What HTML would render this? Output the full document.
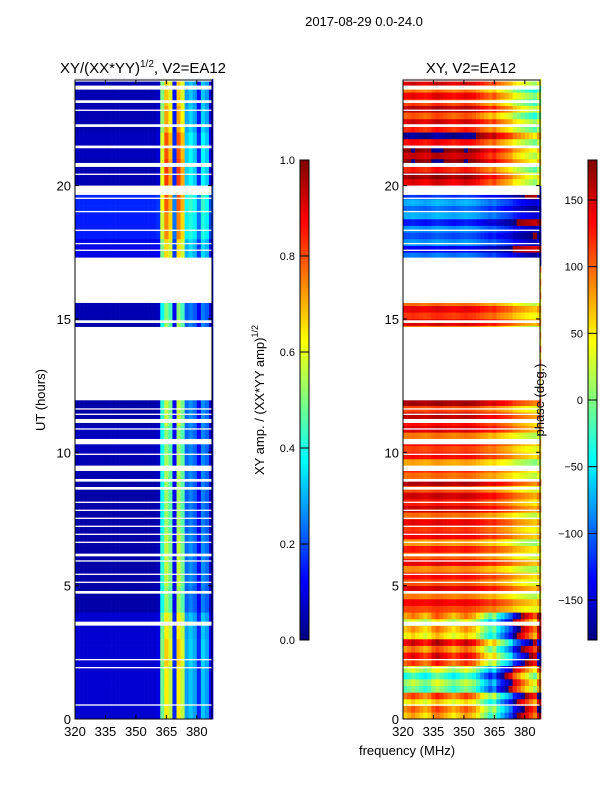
<!DOCTYPE html>
<html><head><meta charset="utf-8"><style>
body{margin:0;background:#fff;}
svg{display:block;font-family:"Liberation Sans",sans-serif;}
</style></head><body>
<svg id="fig" width="600" height="800" viewBox="0 0 600 800">
<rect width="600" height="800" fill="#fff"/>
<g id="layer"></g>
<text x="364" y="26" font-size="13" text-anchor="middle">2017-08-29 0.0-24.0</text>
<text x="143" y="73" font-size="15" text-anchor="middle">XY/(XX*YY)<tspan font-size="10" dy="-6">1/2</tspan><tspan dy="6">, V2=EA12</tspan></text>
<text x="471" y="73" font-size="15" text-anchor="middle">XY, V2=EA12</text>
<text x="45" y="400" font-size="13" text-anchor="middle" transform="rotate(-90 45 400)">UT (hours)</text>
<text x="407" y="755" font-size="13" text-anchor="middle">frequency (MHz)</text>
<text x="264" y="400" font-size="13" text-anchor="middle" transform="rotate(-90 264 400)">XY amp. / (XX*YY amp)<tspan font-size="9" dy="-6">1/2</tspan></text>
<text x="544" y="400" font-size="13" text-anchor="middle" transform="rotate(-90 544 400)">phase (deg.)</text>
</svg>
<script>
const channels=[320,322,324,326,328,330,332,334,336,338,340,342,344,346,348,350,352,354,356,358,360,362,364,366,368,370,372,374,376,378,380,382,384,386];
const chanProfile=[0,0,0,0,0,0,0,0,0,0,0,0,0,0,0,0,0,0,0,0,0.02,0.5,0.7,0.6,0.1,0.7,0.6,0.25,0.3,0.25,0.1,0.3,0.25,0.05];
const hourGain=[0.8,0.8,0.85,0.8,0.7,0.75,0.75,0.7,0.7,0.7,0.65,0.75,0.7,0.7,0.7,0.65,0.7,0.8,0.85,0.9,1.1,1.05,0.95,0.9];
const bgHour=[0.08,0.08,0.08,0.08,0.04,0.04,0.04,0.04,0.04,0.05,0.06,0.04,0.04,0.04,0.04,0.05,0.05,0.1,0.15,0.16,0.05,0.06,0.05,0.05];
const phaseHour=[60,-20,100,40,110,105,100,115,125,95,110,130,130,130,110,115,120,-120,-110,-100,140,150,120,110];
const phaseChan=[0,5,10,5,0,-5,0,10,15,10,5,0,-5,0,5,10,5,0,-10,-20,-30,-40,-30,-50,-60,-70,-80,-100,-110,-120,-130,-140,-150,-120];
const phaseSub=[0,25,-20,35];
const gaps=[[0.5,0.55],[1.9,1.95],[2.2,2.25],[3.5,3.65],[4.7,4.8],[5.1,5.15],[5.4,5.45],[5.9,5.95],[6.1,6.2],[6.6,6.65],[6.9,6.95],[7.2,7.25],[7.5,7.55],[7.8,7.85],[8.1,8.15],[8.6,8.7],[8.9,9.0],[9.3,9.5],[9.9,9.95],[10.3,10.5],[10.85,10.9],[11.1,11.25],[11.4,11.45],[11.6,11.65],[11.95,14.7],[14.85,14.95],[15.6,17.3],[17.55,17.6],[17.8,17.85],[18.3,18.35],[19.0,19.05],[19.5,19.55],[19.65,20.0],[20.4,20.45],[20.7,20.85],[21.4,21.5],[22.2,22.3],[22.8,22.85],[23.1,23.2],[23.6,23.75],[23.9,24]];
const yTicks=[0,5,10,15,20];
const xTicks=[320,335,350,365,380];
const ampTicks=[0.0,0.2,0.4,0.6,0.8,1.0];
const phaseTicks=[-150,-100,-50,0,50,100,150];

const NS="http://www.w3.org/2000/svg";
const layer=document.getElementById('layer');
const Y0=719,PXH=26.67,XS=2.03;
function yOf(h){return Y0-h*PXH;}
function xOf(f,off){return off+(f-320)*XS;}
function jet(v){v=Math.max(0,Math.min(1,v));
 const r=Math.max(0,Math.min(1,1.5-Math.abs(4*v-3))),g=Math.max(0,Math.min(1,1.5-Math.abs(4*v-2))),b=Math.max(0,Math.min(1,1.5-Math.abs(4*v-1)));
 return `rgb(${Math.round(r*255)},${Math.round(g*255)},${Math.round(b*255)})`;}
function mk(t,a,p){const e=document.createElementNS(NS,t);for(const k in a)e.setAttribute(k,a[k]);(p||layer).appendChild(e);return e;}
function wrap(p){return ((p+180)%360+360)%360-180;}

function panel(off,kind){
 const g=mk('g',{});
 
 
 for(let r=0;r<96;r++){
  const h=Math.floor(r/4),q=r%4;
  for(let c=0;c<channels.length;c++){
   let col;
   if(kind==='amp'){col=jet(Math.min(1,chanProfile[c]*hourGain[h]+bgHour[h]));}
   else{const k=(h<4)?2.2:(h>19?0.9:0.5);col=jet((wrap(phaseHour[h]+phaseChan[c]*k+phaseSub[q])+180)/360);}
   const x=xOf(channels[c],off),y=yOf((r+1)*0.25);
   const cell=mk('rect',{x:x.toFixed(2),y:y.toFixed(2),width:(2*XS+0.3).toFixed(2),height:(0.25*PXH+0.3).toFixed(2),fill:col},g);
   
   
  }
 }
 for(const gp of gaps){
  const w=mk('rect',{x:off,y:yOf(gp[1]).toFixed(2),width:137,height:((gp[1]-gp[0])*PXH).toFixed(2),fill:'#fff'},g);
  
  
 }
 const fr=mk('rect',{x:off,y:80,width:137,height:639,fill:'none',stroke:'#000','stroke-width':1});
 
 
 for(const t of yTicks){const y=yOf(t);
  mk('line',{x1:off,x2:off+4,y1:y,y2:y,stroke:'#000'});
  mk('line',{x1:off+137,x2:off+133,y1:y,y2:y,stroke:'#000'});
  const tx=mk('text',{x:off-4,y:y+5,'font-size':13,'text-anchor':'end'});tx.textContent=t;
  
  
 }
 for(const t of xTicks){const x=xOf(t,off);
  mk('line',{x1:x,x2:x,y1:719,y2:715,stroke:'#000'});
  mk('line',{x1:x,x2:x,y1:80,y2:84,stroke:'#000'});
  const tx=mk('text',{x:x,y:736,'font-size':13,'text-anchor':'middle'});tx.textContent=t;
  
  
 }
}
panel(75,'amp');panel(403,'phase');

function cbar(x,ticks,lo,hi,name,fmt){
 const g=mk('g',{});
 
 
 const top=160,bot=640,n=120;
 for(let i=0;i<n;i++){const y=bot-(i+1)*(bot-top)/n;
  mk('rect',{x:x,y:y.toFixed(2),width:9,height:((bot-top)/n+0.3).toFixed(2),fill:jet((i+0.5)/n)},g);}
 mk('rect',{x:x,y:top,width:9,height:bot-top,fill:'none',stroke:'#000'},g);
 for(const t of ticks){const y=bot-(t-lo)/(hi-lo)*(bot-top);
  mk('line',{x1:x,x2:x+9,y1:y,y2:y,stroke:'#000'},g);
  const tx=mk('text',{x:x-5,y:y+4,'font-size':11,'text-anchor':'end'},g);tx.textContent=fmt(t);
  
  
 }
}
cbar(300,ampTicks,0,1,'amp-colorbar',t=>t.toFixed(1));
cbar(588,phaseTicks,-180,180,'phase-colorbar',t=>t<0?'\u2212'+(-t):String(t));
</script>
</body></html>
